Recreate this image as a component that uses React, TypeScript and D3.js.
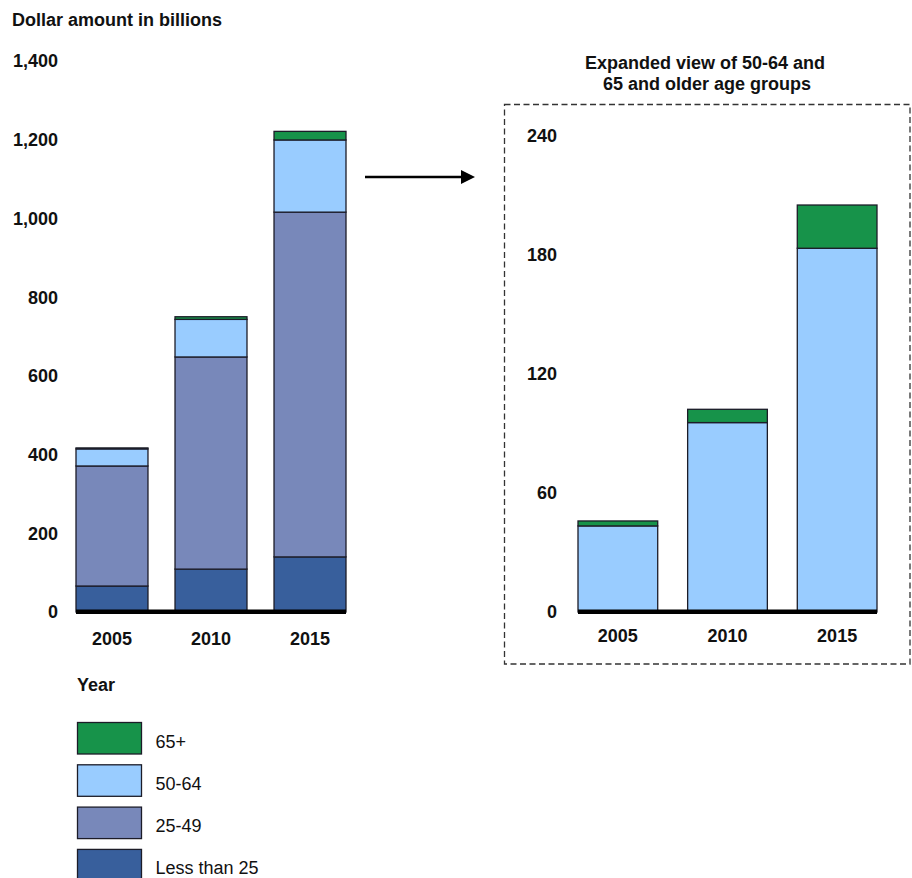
import React from 'react';
import * as d3 from 'd3';

const years = ['2005', '2010', '2015'];
const under25 = [66, 109, 140];
const age25to49 = [305, 539, 876];
const age50to64 = [43.4, 95.5, 183.4];
const age65plus = [2.5, 6.7, 21.8];

const leftTicks = [0, 200, 400, 600, 800, 1000, 1200, 1400];
const rightTicks = [0, 60, 120, 180, 240];

const seriesNames = ['Less than 25', '25-49', '50-64', '65+'];
const seriesColors = ['#385f9c', '#7888ba', '#99ccff', '#17934a'];

const FONT = '"Liberation Sans", Arial, Helvetica, sans-serif';
const STROKE = '#1c1c28';

type Row = { year: string; s0: number; s1: number; s2: number; s3: number };

const rows: Row[] = years.map((y, i) => ({
  year: y,
  s0: under25[i],
  s1: age25to49[i],
  s2: age50to64[i],
  s3: age65plus[i],
}));

function StackPanel({
  keys,
  colorIdx,
  xRange,
  yScale,
  ticks,
  tickX,
  tickFmt,
  labelY,
}: {
  keys: string[];
  colorIdx: number[];
  xRange: [number, number];
  yScale: d3.ScaleLinear<number, number>;
  ticks: number[];
  tickX: number;
  tickFmt: (n: number) => string;
  labelY: number;
}) {
  const x = d3.scaleBand<string>().domain(years).range(xRange).paddingInner(0.273).paddingOuter(0);
  const stack = d3.stack<Row>().keys(keys as any);
  const layers = stack(rows);
  const y0 = yScale(0);
  return (
    <g>
      {ticks.map((t) => (
        <text
          key={t}
          x={tickX}
          y={yScale(t)}
          dy="0.36em"
          textAnchor="end"
          fontFamily={FONT}
          fontWeight="bold"
          fontSize={18}
          fill="#111"
        >
          {tickFmt(t)}
        </text>
      ))}
      {layers.map((layer, li) => (
        <g key={li}>
          {layer.map((d, i) => (
            <rect
              key={i}
              x={x(years[i])}
              y={yScale(d[1])}
              width={x.bandwidth()}
              height={Math.max(0, yScale(d[0]) - yScale(d[1]))}
              fill={seriesColors[colorIdx[li]]}
              stroke={STROKE}
              strokeWidth={1.3}
            />
          ))}
        </g>
      ))}
      <rect x={xRange[0]} y={y0 - 2.5} width={xRange[1] - xRange[0]} height={4.5} fill="#000" />
      {years.map((yr) => (
        <text
          key={yr}
          x={(x(yr) as number) + x.bandwidth() / 2}
          y={labelY}
          textAnchor="middle"
          fontFamily={FONT}
          fontWeight="bold"
          fontSize={18}
          fill="#111"
        >
          {yr}
        </text>
      ))}
    </g>
  );
}

export default function App() {
  const yLeft = d3.scaleLinear().domain([0, 1400]).range([612, 61]);
  const yRight = d3.scaleLinear().domain([0, 240]).range([612, 136]);
  const fmt = d3.format(',');
  const legendOrder = [3, 2, 1, 0];

  return (
    <svg
      width={912}
      height={878}
      style={{ position: 'absolute', left: 0, top: 0, background: '#fff' }}
    >
      <rect width={912} height={878} fill="#fff" />
      <text x={12} y={26} fontFamily={FONT} fontWeight="bold" fontSize={18} fill="#111">
        Dollar amount in billions
      </text>

      <StackPanel
        keys={['s0', 's1', 's2', 's3']}
        colorIdx={[0, 1, 2, 3]}
        xRange={[76, 346]}
        yScale={yLeft}
        ticks={leftTicks}
        tickX={58}
        tickFmt={(n) => fmt(n)}
        labelY={645}
      />

      {/* arrow */}
      <line x1={365} y1={177} x2={463} y2={177} stroke="#000" strokeWidth={2.5} />
      <polygon points="461,170 475,177 461,184" fill="#000" />

      {/* expanded view */}
      <text
        x={705}
        y={69}
        textAnchor="middle"
        fontFamily={FONT}
        fontWeight="bold"
        fontSize={18}
        fill="#111"
      >
        Expanded view of 50-64 and
      </text>
      <text
        x={707}
        y={90}
        textAnchor="middle"
        fontFamily={FONT}
        fontWeight="bold"
        fontSize={18}
        fill="#111"
      >
        65 and older age groups
      </text>
      <rect
        x={504.5}
        y={104.5}
        width={405.5}
        height={559.5}
        fill="none"
        stroke="#333"
        strokeWidth={1.3}
        strokeDasharray="6,3.5"
      />
      <StackPanel
        keys={['s2', 's3']}
        colorIdx={[2, 3]}
        xRange={[578, 877]}
        yScale={yRight}
        ticks={rightTicks}
        tickX={557}
        tickFmt={(n) => String(n)}
        labelY={642}
      />

      {/* legend */}
      <text x={77} y={691} fontFamily={FONT} fontWeight="bold" fontSize={18} fill="#111">
        Year
      </text>
      {legendOrder.map((si, i) => (
        <g key={si} transform={`translate(77.5, ${722.5 + i * 42.3})`}>
          <rect width={64} height={31.5} fill={seriesColors[si]} stroke={STROKE} strokeWidth={1.3} />
          <text x={78} y={25} fontFamily={FONT} fontSize={18} fill="#111">
            {seriesNames[si]}
          </text>
        </g>
      ))}
    </svg>
  );
}
